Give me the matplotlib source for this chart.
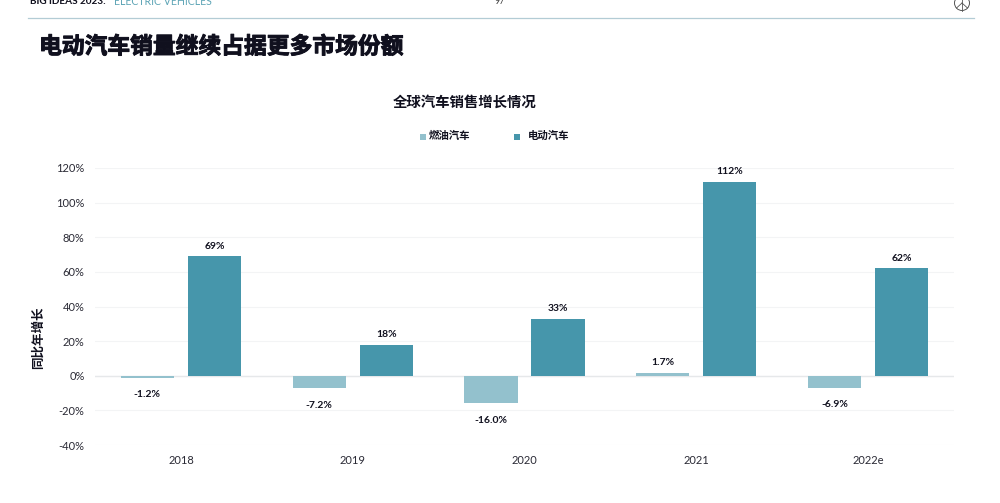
import matplotlib.pyplot as plt
import matplotlib.patheffects as pe
import numpy as np
from matplotlib.patches import Circle

plt.rcParams['font.family'] = ['Lato', 'Noto Sans CJK SC', 'DejaVu Sans']

# Données
annees = ["2018", "2019", "2020", "2021", "2022e"]
ventes_thermique = [-1.2, -7.2, -16.0, 1.7, -6.9]
ventes_electrique = [69, 18, 33, 112, 62]
labels_thermique = ["-1.2%", "-7.2%", "-16.0%", "1.7%", "-6.9%"]
labels_electrique = ["69%", "18%", "33%", "112%", "62%"]
yticks = [-40, -20, 0, 20, 40, 60, 80, 100, 120]

CLAIR = "#93c1cd"
FONCE = "#4696ab"
NOIR = "#10101e"
CJK = ['Noto Sans CJK SC', 'DejaVu Sans']
W, H = 1000, 503

fig = plt.figure(figsize=(10, 5.03), dpi=100)

# Calque en pixels pour l'en-tête et la légende
page = fig.add_axes([0, 0, 1, 1])
page.set_xlim(0, W)
page.set_ylim(H, 0)
page.axis("off")

page.text(30, 1.5, "BIG IDEAS 2023:", fontsize=7.2, fontweight="bold", color=NOIR,
          va="center", ha="left")
page.text(113.5, 1.5, "ELECTRIC VEHICLES", fontsize=7.6, color="#5ea5b6",
          va="center", ha="left")
page.text(500, 1.5, "97", fontsize=6.5, color="#444444", va="center", ha="center")
page.plot([28, 974], [18, 18], color="#b3ccd5", lw=0.9)

# Petit logo coupé en haut à droite
page.add_patch(Circle((962, 3), 7.5, fill=False, ec="#555555", lw=0.7))
page.plot([962, 962], [-4, 10.5], color="#555555", lw=0.6)
page.plot([962, 956.5], [3, 8], color="#555555", lw=0.6)
page.plot([962, 967.5], [3, 8], color="#555555", lw=0.6)

titre = page.text(39, 47, "电动汽车销量继续占据更多市场份额", fontsize=16.4, fontweight="black",
                  color=NOIR, family=CJK, va="center", ha="left")
titre.set_path_effects([pe.withStroke(linewidth=0.7, foreground=NOIR)])
page.text(464.5, 102.5, "全球汽车销售增长情况", fontsize=10.4, fontweight="bold",
          color=NOIR, family=CJK, va="center", ha="center")

page.plot([422.5], [137], "s", color=CLAIR, ms=4.5, mew=0)
page.text(429, 136, "燃油汽车", fontsize=7.5, fontweight="bold", color=NOIR,
          family=CJK, va="center", ha="left")
page.plot([516.5], [137], "s", color=FONCE, ms=4.5, mew=0)
page.text(528, 136, "电动汽车", fontsize=7.5, fontweight="bold", color=NOIR,
          family=CJK, va="center", ha="left")

# Graphique
ax = fig.add_axes([95 / W, 1 - 445 / H, (954 - 95) / W, (445 - 168) / H])
ax.patch.set_alpha(0)

x = np.arange(len(annees))
largeur = 0.309
decalage = 0.195
ax.bar(x - decalage, ventes_thermique, largeur, color=CLAIR, zorder=3)
ax.bar(x + decalage, ventes_electrique, largeur, color=FONCE, zorder=3)

for i in range(len(annees)):
    v = ventes_thermique[i]
    if v < 0:
        ax.annotate(labels_thermique[i], (x[i] - decalage, v), xytext=(0, -9), textcoords="offset points",
                    ha="center", va="top", fontsize=7.5, fontweight="bold", color=NOIR)
    else:
        ax.annotate(labels_thermique[i], (x[i] - decalage, v), xytext=(0, 4), textcoords="offset points",
                    ha="center", va="bottom", fontsize=7.5, fontweight="bold", color=NOIR)
    ax.annotate(labels_electrique[i], (x[i] + decalage, ventes_electrique[i]), xytext=(0, 4),
                textcoords="offset points", ha="center", va="bottom", fontsize=7.5,
                fontweight="bold", color=NOIR)

ax.set_xlim(-0.5, len(annees) - 0.5)
ax.set_ylim(-40, 120)
ax.set_xticks(x)
ax.set_xticklabels(annees)
ax.set_yticks(yticks)
ax.set_yticklabels([str(t) + "%" for t in yticks])
ax.tick_params(axis="both", length=0, labelsize=8, labelcolor="#2a2a35")
ax.tick_params(axis="x", pad=7.5)
ax.tick_params(axis="y", pad=7.5)
ax.grid(axis="y", color="#f3f4f5", lw=0.8, zorder=0)
ax.axhline(0, color="#e6e8ea", lw=1, zorder=2)
for cote in ax.spines.values():
    cote.set_visible(False)

page.text(38, 338, "同比年增长", fontsize=9, fontweight="bold", color=NOIR, rotation=90,
          family=CJK, va="center", ha="center")

fig.savefig("out.png", dpi=100)
